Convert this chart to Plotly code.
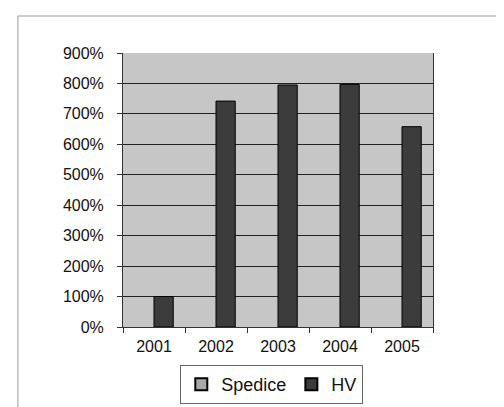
import plotly.graph_objects as go

# data
roky = ['2001', '2002', '2003', '2004', '2005']
spedice = [None, None, None, None, None]
hv = [1.00, 7.42, 7.95, 7.97, 6.58]

fig = go.Figure()
fig.add_trace(go.Bar(x=roky, y=spedice, name='Spedice',
                     marker=dict(color='#a8a8a8', line=dict(color='#000000', width=1))))
fig.add_trace(go.Bar(x=roky, y=hv, name='HV',
                     marker=dict(color='#3c3c3c', line=dict(color='#000000', width=1))))

# thin frame of the chart area (top and left edges only visible in the scan)
fig.add_shape(type='line', xref='paper', yref='paper',
              x0=-0.339, x1=1.26, y0=1.135, y1=1.135,
              line=dict(color='#9a9a9a', width=1))
fig.add_shape(type='line', xref='paper', yref='paper',
              x0=-0.339, x1=-0.339, y0=1.135, y1=-0.32,
              line=dict(color='#9a9a9a', width=1))

fig.update_layout(
    width=504, height=407,
    margin=dict(l=115, r=79, t=45, b=87),
    barmode='group', bargap=0.38, bargroupgap=0,
    plot_bgcolor='#c6c6c6', paper_bgcolor='white',
    font=dict(family='Liberation Sans, Arial', size=16, color='#111111'),
    showlegend=True,
    legend=dict(orientation='h', x=0.48, xanchor='center', y=-0.135, yanchor='top',
                bordercolor='#666666', borderwidth=1, font=dict(size=18),
                itemwidth=30, traceorder='normal', tracegroupgap=0,
                itemsizing='constant'),
    xaxis=dict(showline=True, linecolor='#333333', linewidth=1, ticks='outside',
               tickson='boundaries', ticklen=5, tickcolor='#333333',
               ticklabelstandoff=5, showgrid=False, mirror=False),
    yaxis=dict(range=[0, 9], dtick=1, tickformat='.0%', showline=True,
               linecolor='#333333', linewidth=1, ticks='outside', ticklen=5,
               tickcolor='#333333', ticklabelstandoff=10, gridcolor='#222222',
               gridwidth=1, zeroline=False, mirror=True),
)
fig.write_html('out.html')
